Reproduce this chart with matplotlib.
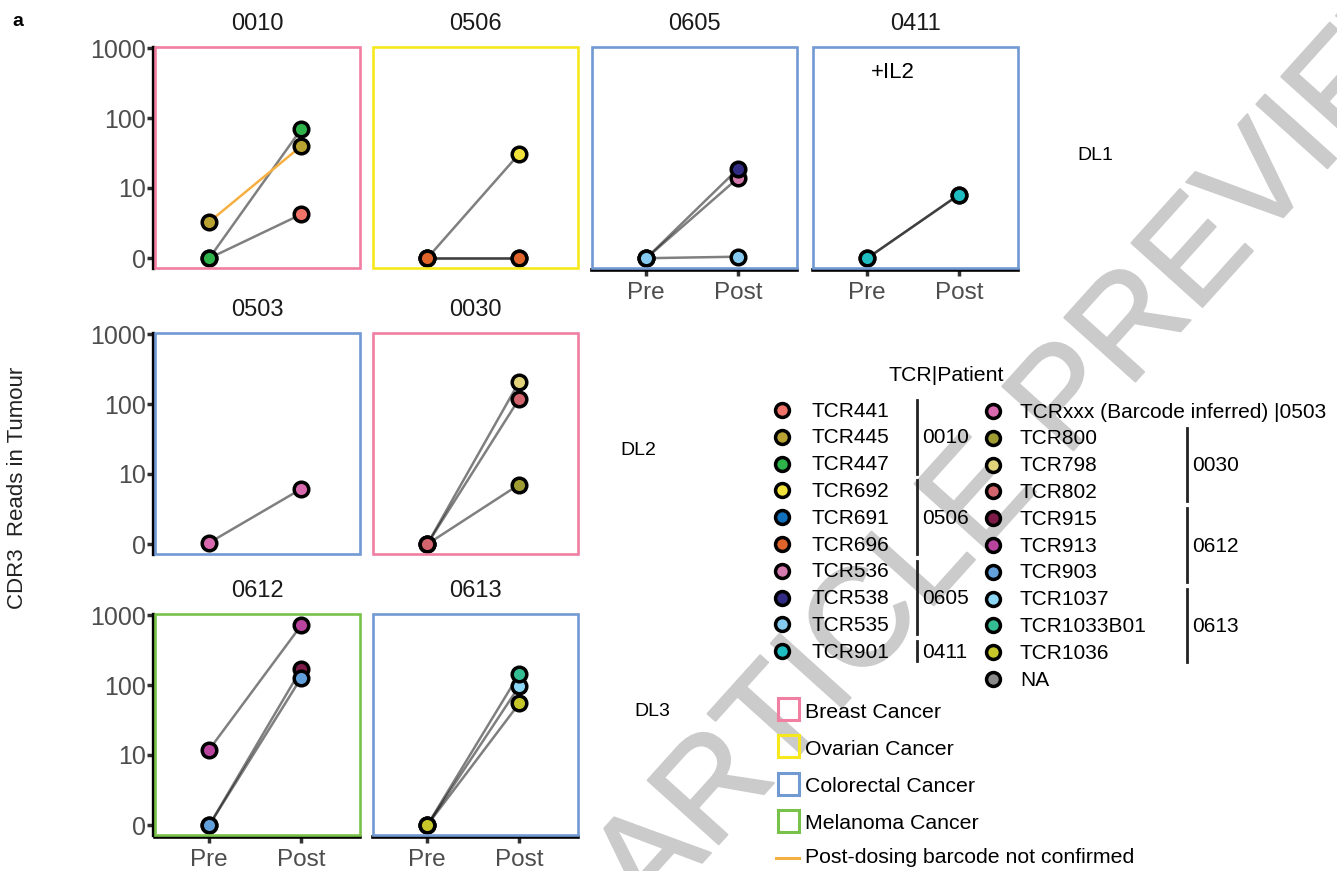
import numpy as np
import matplotlib.pyplot as plt
from matplotlib import font_manager
from matplotlib import patheffects
from matplotlib.patches import Rectangle

plt.rcParams['font.family'] = ['Liberation Sans', 'DejaVu Sans']

# ---- data ----
patients = ['0010', '0506', '0605', '0411', '0503', '0030', '0612', '0613']
patient_cancer = ['Breast', 'Ovarian', 'Colorectal', 'Colorectal',
                  'Colorectal', 'Breast', 'Melanoma', 'Colorectal']

tcr_names = ['TCR441', 'TCR445', 'TCR447', 'TCR692', 'TCR691', 'TCR696',
             'TCR536', 'TCR538', 'TCR535', 'TCR901', 'TCR901', 'TCRxxx',
             'TCR800', 'TCR798', 'TCR802', 'TCR915', 'TCR913', 'TCR903',
             'TCR1037', 'TCR1033B01', 'TCR1036']
tcr_patient = ['0010', '0010', '0010', '0506', '0506', '0506',
               '0605', '0605', '0605', '0411', '0411', '0503',
               '0030', '0030', '0030', '0612', '0612', '0612',
               '0613', '0613', '0613']
pre_reads = [0, 3, 0, 0, 0, 0,
             0, 0, 0, 0, 0, 0.1,
             0, 0, 0, 0, 12, 0,
             0, 0, 0]
post_reads = [4, 40, 70, 31, 0, 0,
              14, 19, 0.1, 8, 8, 6,
              7, 210, 120, 170, 720, 128,
              97, 145, 55]
barcode_confirmed = [True, False, True, True, True, True,
                     True, True, True, True, True, True,
                     True, True, True, True, True, True,
                     True, True, True]

legend_col1 = ['TCR441', 'TCR445', 'TCR447', 'TCR692', 'TCR691', 'TCR696',
               'TCR536', 'TCR538', 'TCR535', 'TCR901']
legend_col2 = ['TCRxxx (Barcode inferred) |0503', 'TCR800', 'TCR798', 'TCR802',
               'TCR915', 'TCR913', 'TCR903', 'TCR1037', 'TCR1033B01',
               'TCR1036', 'NA']
groups_col1 = [('0010', 0, 2), ('0506', 3, 5), ('0605', 6, 8), ('0411', 9, 9)]
groups_col2 = [('0030', 1, 3), ('0612', 4, 6), ('0613', 7, 9)]

tcr_colors = {
    'TCR441': '#F0736A', 'TCR445': '#B8A232', 'TCR447': '#2DB34A',
    'TCR692': '#F2E33C', 'TCR691': '#1170BC', 'TCR696': '#E0642A',
    'TCR536': '#D47AAE', 'TCR538': '#322B84', 'TCR535': '#86CBEF',
    'TCR901': '#1EBDC2', 'TCRxxx': '#D869AE', 'TCR800': '#A09C34',
    'TCR798': '#E2D27A', 'TCR802': '#D2646E', 'TCR915': '#7E1A48',
    'TCR913': '#B8449E', 'TCR903': '#62A0DC', 'TCR1037': '#8CD6F6',
    'TCR1033B01': '#34BC92', 'TCR1036': '#C6C62A', 'NA': '#8A8A8A'}

cancer_names = ['Breast Cancer', 'Ovarian Cancer', 'Colorectal Cancer', 'Melanoma Cancer']
cancer_keys = ['Breast', 'Ovarian', 'Colorectal', 'Melanoma']
cancer_colors = {'Breast': '#F17FA2', 'Ovarian': '#F7E81E',
                 'Colorectal': '#7199D2', 'Melanoma': '#78C14A'}

timepoints = ['Pre', 'Post']
row_labels = ['DL1', 'DL2', 'DL3']

# ---- layout (pixels) ----
W, H = 1337, 871
fig = plt.figure(figsize=(W / 100, H / 100), dpi=100)

col_left = [155, 373, 592, 813]
row_top = [47, 333, 614]
pw, ph = 205, 221
panel_cell = [(0, 0), (0, 1), (0, 2), (0, 3), (1, 0), (1, 1), (2, 0), (2, 1)]
bottom_panels = ['0605', '0411', '0612', '0613']

ylim = 2 * np.sinh(np.array([-0.14, 3.02]) * np.log(10))

for p, cancer, (r, c) in zip(patients, patient_cancer, panel_cell):
    ax = fig.add_axes([col_left[c] / W, 1 - (row_top[r] + ph) / H, pw / W, ph / H])
    ax.set_yscale('asinh', linear_width=2)
    ax.set_ylim(ylim)
    ax.set_xlim(0.41, 2.64)
    ax.minorticks_off()

    for name, pt, pre, post, ok in zip(tcr_names, tcr_patient, pre_reads,
                                       post_reads, barcode_confirmed):
        if pt != p:
            continue
        if ok:
            ax.plot([1, 2], [pre, post], color='black', alpha=0.5, lw=1.8,
                    zorder=2, solid_capstyle='butt')
        else:
            ax.plot([1, 2], [pre, post], color='#F6B042', lw=1.8, zorder=2.5)
    for name, pt, pre, post in zip(tcr_names, tcr_patient, pre_reads, post_reads):
        if pt != p:
            continue
        ax.plot([1, 2], [pre, post], ls='none', marker='o', ms=10.5,
                mfc=tcr_colors[name], mec='black', mew=2.5, zorder=3,
                clip_on=False)

    for s in ax.spines.values():
        s.set_visible(False)
    ax.add_patch(Rectangle((0, 0), 1, 1, transform=ax.transAxes, fill=False,
                           ec=cancer_colors[cancer], lw=1.9, zorder=4, clip_on=False))

    ax.tick_params(length=4, width=2.5, color='#333333', labelcolor='#4D4D4D',
                   labelsize=18)
    if c == 0:
        ax.spines['left'].set_visible(True)
        ax.spines['left'].set_position(('outward', 1.5))
        ax.spines['left'].set_linewidth(2.4)
        ax.set_yticks([0, 10, 100, 1000])
        ax.set_yticklabels(['0', '10', '100', '1000'])
        ax.tick_params(axis='y', pad=1)
    else:
        ax.set_yticks([])
    if p in bottom_panels:
        ax.spines['bottom'].set_visible(True)
        ax.spines['bottom'].set_position(('outward', 1.5))
        ax.spines['bottom'].set_linewidth(2.6)
        ax.set_xticks([1, 2])
        ax.set_xticklabels(timepoints, fontsize=17.5)
        ax.tick_params(axis='x', pad=4.5)
    else:
        ax.set_xticks([])

    ax.set_title(p, fontsize=17, color='#1A1A1A', pad=12)
    if p == '0411':
        ax.text(0.39, 0.885, '+IL2', transform=ax.transAxes, ha='center',
                va='center', fontsize=16)

# ---- overlay for labels, legend, watermark ----
ov = fig.add_axes([0, 0, 1, 1], facecolor='none')
ov.set_xlim(0, W)
ov.set_ylim(H, 0)
ov.axis('off')

installed = {f.name for f in font_manager.fontManager.ttflist}
if 'Liberation Sans Narrow' in installed:
    wm_family, wm_size = 'Liberation Sans Narrow', 120
else:
    wm_family, wm_size = 'Liberation Sans', 100
ov.text(1045, 428, 'ARTICLE PREVIEW', rotation=48, fontsize=wm_size,
        family=wm_family, color='#CBCBCB', ha='center', va='center',
        rotation_mode='anchor', zorder=0,
        path_effects=[patheffects.withStroke(linewidth=1.5, foreground='#CBCBCB')])

ov.text(12, 22, 'a', fontsize=14, fontweight='bold', va='center')
ov.text(18, 488, 'CDR3  Reads in Tumour', rotation=90, fontsize=16,
        color='#222222', ha='center', va='center')
for lab, (x, y) in zip(row_labels, [(1095, 155), (638, 450), (652, 711)]):
    ov.text(x, y, lab, fontsize=14, ha='center', va='center')

ov.text(946, 375, 'TCR|Patient', fontsize=15.3, ha='center', va='center')

dy = 26.8
for i, name in enumerate(legend_col1):
    y = 410 + i * dy
    ov.plot(782, y, 'o', ms=10, mfc=tcr_colors[name], mec='black', mew=2.5, zorder=3)
    ov.text(812, y + 1, name, fontsize=15, va='center', zorder=3)
for lab, i0, i1 in groups_col1:
    y0, y1 = 410 + i0 * dy - 10, 410 + i1 * dy + 10
    ov.plot([917, 917], [y0, y1], color='#222222', lw=2, zorder=3)
    ov.text(922, (y0 + y1) / 2 + 1, lab, fontsize=15, va='center', zorder=3)

for i, name in enumerate(legend_col2):
    y = 411 + i * dy
    key = name.split(' ')[0]
    ov.plot(993, y, 'o', ms=10, mfc=tcr_colors[key], mec='black', mew=2.5, zorder=3)
    ov.text(1020, y + 1, name, fontsize=15, va='center', zorder=3)
for lab, i0, i1 in groups_col2:
    y0, y1 = 411 + i0 * dy - 10, 411 + i1 * dy + 10
    ov.plot([1187, 1187], [y0, y1], color='#222222', lw=2, zorder=3)
    ov.text(1192, (y0 + y1) / 2 + 1, lab, fontsize=15, va='center', zorder=3)

for i, (name, key) in enumerate(zip(cancer_names, cancer_keys)):
    y = 698 + i * 37.3
    ov.add_patch(Rectangle((778, y), 21, 22, fill=False, ec=cancer_colors[key],
                           lw=2.2, zorder=3))
    ov.text(805, y + 14, name, fontsize=15.3, va='center', zorder=3)
ov.plot([776, 799], [858, 858], color='#F6B042', lw=2.2, zorder=3)
ov.text(805, 857, 'Post-dosing barcode not confirmed', fontsize=15.3,
        va='center', zorder=3)

fig.savefig('out.png', dpi=100)
